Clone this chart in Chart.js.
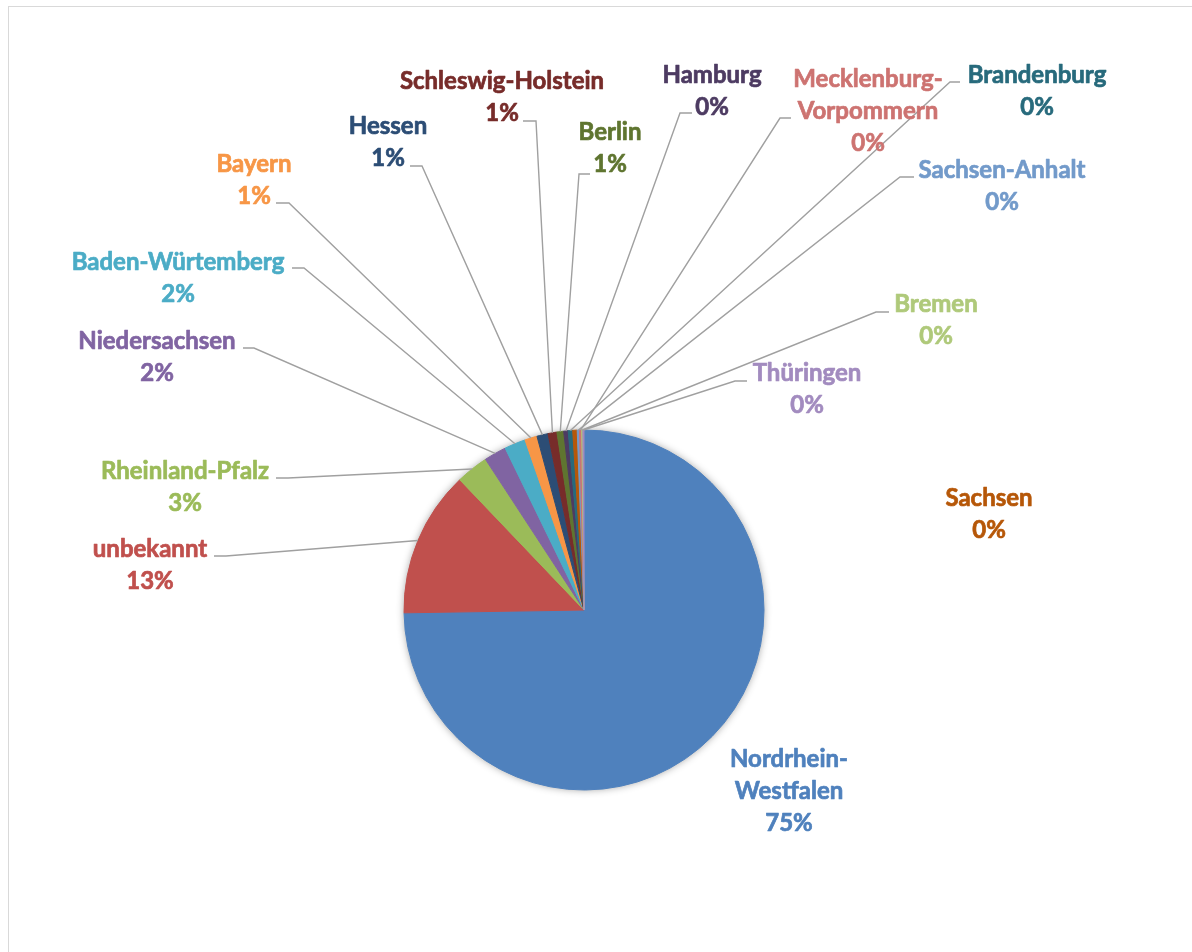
<!DOCTYPE html>
<html lang="de">
<head>
<meta charset="utf-8">
<title>Verteilung nach Bundesland</title>
<script src="https://cdn.jsdelivr.net/npm/chart.js@4.4.1/dist/chart.umd.min.js"></script>
<style>
  html, body { margin: 0; padding: 0; background: #fff; overflow: hidden; }
  body { width: 1192px; height: 952px; position: relative; }
  .frame { position: absolute; left: 8px; top: 6px; width: 1300px; height: 1100px; border: 1px solid #d9d9d9; }
  #pieChart { position: absolute; left: 0; top: 0; }
</style>
</head>
<body>
<div class="frame"></div>
<canvas id="pieChart" width="1192" height="952"></canvas>
<script>
const REGIONS = [
    "Nordrhein-Westfalen", "unbekannt", "Rheinland-Pfalz", "Niedersachsen",
    "Baden-Würtemberg", "Bayern", "Hessen", "Schleswig-Holstein", "Berlin",
    "Hamburg", "Brandenburg", "Sachsen", "Sachsen-Anhalt",
    "Mecklenburg-Vorpommern", "Bremen", "Thüringen"
];
const COUNTS = [746, 131, 29, 20, 19, 11, 10, 8, 6, 4, 4, 4, 2, 2, 1, 1];

const COLORS = [
    "#4f81bd", "#c0504d", "#9bbb59", "#8064a2", "#4bacc6", "#f79646",
    "#2c4d75", "#772c2a", "#5f7530", "#4d3b62", "#276a7c", "#b65708",
    "#729aca", "#cd7371", "#afc97a", "#a28bbf"
];

// where each label sits (centre x, first line y) and the elbow of its leader line
const LABEL_SPOTS = {
    "Nordrhein-Westfalen":    { x: 789, y: 759, lines: ["Nordrhein-", "Westfalen"] },
    "unbekannt":              { x: 150, y: 549, leader: [214, 226, 556] },
    "Rheinland-Pfalz":        { x: 185, y: 471, leader: [276, 288, 478] },
    "Niedersachsen":          { x: 157, y: 341, leader: [243, 254, 348] },
    "Baden-Würtemberg":       { x: 178, y: 262, leader: [292, 304, 268] },
    "Bayern":                 { x: 254, y: 164, leader: [276, 289, 203] },
    "Hessen":                 { x: 388, y: 126, leader: [410, 422, 166] },
    "Schleswig-Holstein":     { x: 502, y: 81,  leader: [523, 536, 121] },
    "Berlin":                 { x: 610, y: 132, leader: [590, 579, 174] },
    "Hamburg":                { x: 712, y: 75,  leader: [692, 680, 113] },
    "Brandenburg":            { x: 1037, y: 75, leader: [960, 950, 82] },
    "Sachsen":                { x: 989, y: 498 },
    "Sachsen-Anhalt":         { x: 1002, y: 170, leader: [914, 900, 177] },
    "Mecklenburg-Vorpommern": { x: 868, y: 79,  lines: ["Mecklenburg-", "Vorpommern"], leader: [791, 780, 118] },
    "Bremen":                 { x: 936, y: 304, leader: [889, 876, 312] },
    "Thüringen":              { x: 807, y: 373, leader: [747, 735, 381] }
};

const LINE_HEIGHT = 32;
const LABEL_FONT = "bold 24px Lato, 'Open Sans', sans-serif";

const pieShadow = {
    id: "pieShadow",
    beforeDatasetsDraw(chart) {
        const arc = chart.getDatasetMeta(0).data[0];
        if (!arc) return;
        const ctx = chart.ctx;
        ctx.save();
        ctx.shadowColor = "rgba(0,0,0,0.45)";
        ctx.shadowBlur = 9;
        ctx.fillStyle = "#ffffff";
        ctx.beginPath();
        ctx.arc(arc.x, arc.y, arc.outerRadius - 1, 0, Math.PI * 2);
        ctx.fill();
        ctx.restore();
    }
};

const leaderLabels = {
    id: "leaderLabels",
    afterDatasetsDraw(chart) {
        const ctx = chart.ctx;
        const meta = chart.getDatasetMeta(0);
        const total = COUNTS.reduce((a, b) => a + b, 0);

        ctx.save();
        ctx.strokeStyle = "#a0a0a0";
        ctx.lineWidth = 1.4;
        meta.data.forEach((arc, i) => {
            const spot = LABEL_SPOTS[REGIONS[i]];
            if (!spot || !spot.leader) return;
            const mid = (arc.startAngle + arc.endAngle) / 2;
            const ax = arc.x + Math.cos(mid) * arc.outerRadius;
            const ay = arc.y + Math.sin(mid) * arc.outerRadius;
            const [x1, x2, ly] = spot.leader;
            ctx.beginPath();
            ctx.moveTo(x1, ly);
            ctx.lineTo(x2, ly);
            ctx.lineTo(ax, ay);
            ctx.stroke();
        });

        ctx.font = LABEL_FONT;
        ctx.textAlign = "center";
        ctx.textBaseline = "middle";
        ctx.lineWidth = 0.7;
        ctx.lineJoin = "round";
        meta.data.forEach((arc, i) => {
            const spot = LABEL_SPOTS[REGIONS[i]];
            if (!spot) return;
            const pct = Math.round(COUNTS[i] / total * 100) + "%";
            const lines = (spot.lines || [REGIONS[i]]).concat(pct);
            ctx.fillStyle = COLORS[i];
            ctx.strokeStyle = COLORS[i];
            lines.forEach((t, k) => {
                const y = spot.y + k * LINE_HEIGHT;
                ctx.fillText(t, spot.x, y);
                ctx.strokeText(t, spot.x, y);
            });
        });
        ctx.restore();
    }
};

new Chart(document.getElementById("pieChart"), {
    type: "pie",
    data: {
        labels: REGIONS,
        datasets: [{
            data: COUNTS,
            backgroundColor: COLORS,
            borderColor: COLORS,
            borderWidth: 1,
            radius: 180
        }]
    },
    options: {
        responsive: false,
        animation: false,
        devicePixelRatio: 1,
        layout: { padding: { left: 404, right: 428, top: 430, bottom: 162 } },
        plugins: { legend: { display: false }, tooltip: { enabled: false } }
    },
    plugins: [pieShadow, leaderLabels]
});
</script>
</body>
</html>
